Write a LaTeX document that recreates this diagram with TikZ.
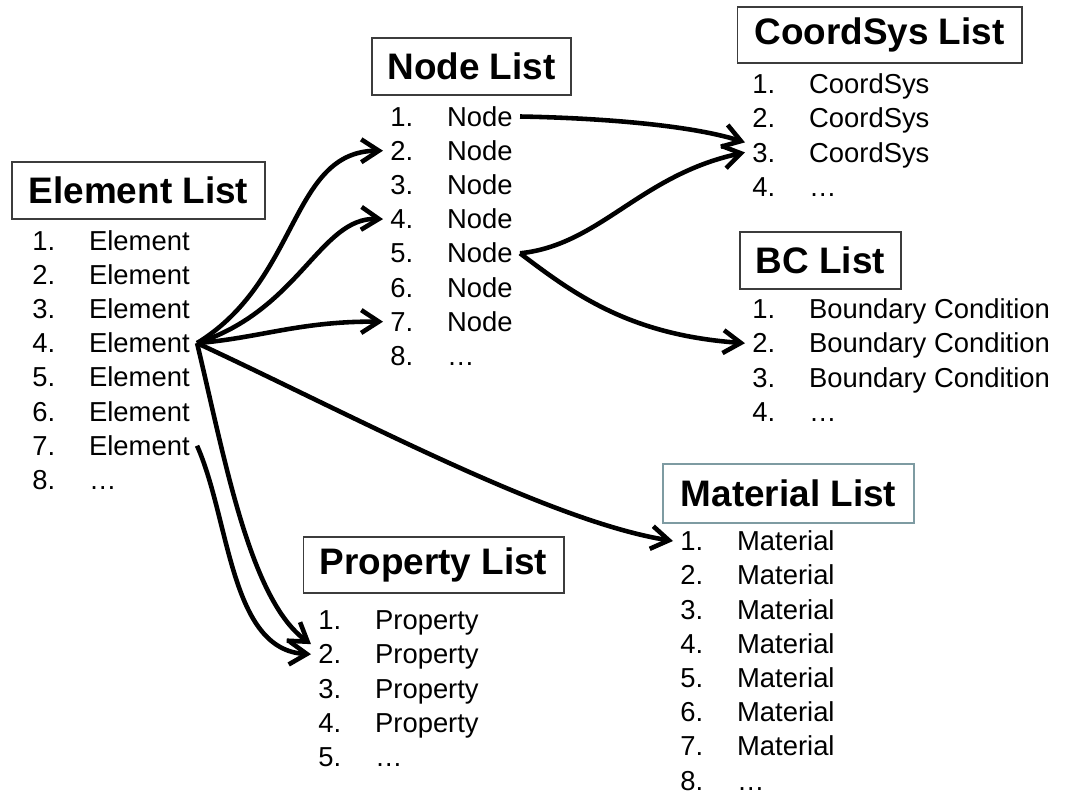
\documentclass[tikz,border=0pt]{standalone}
\usepackage{fontspec}
\setmainfont{Liberation Sans}
\usetikzlibrary{arrows.meta}

\definecolor{boxline}{HTML}{3C3C3C}
\definecolor{matline}{HTML}{7E9BA2}
\newcommand{\itm}[2]{\makebox[32.3pt][l]{#1}#2}

\tikzset{
  listhead/.style={draw=boxline, line width=0.6pt, inner sep=0pt,
    font=\fontsize{21}{25}\selectfont\bfseries},
  listitem/.style={anchor=west, inner xsep=4pt, inner ysep=0pt,
    text height=11pt, text depth=0pt, font=\fontsize{15.6}{18}\selectfont},
  link/.style={-{Straight Barb[length=10pt,width=13pt]}, line width=2.6pt}
}

\begin{document}
\begin{tikzpicture}[x=0.02cm, y=-0.02cm]
  \useasboundingbox (0,0) rectangle (1066,794);

  % list headings
  \node[listhead, minimum width=5.06cm, minimum height=1.14cm] (EL) at (138.5, 190.5) {Element List};
  \node[listhead, minimum width=3.98cm, minimum height=1.14cm] (NL) at (471.5, 66.5) {Node List};
  \node[listhead, minimum width=5.70cm, minimum height=1.12cm] (CL) at (879.5, 35) {CoordSys List};
  \node[listhead, minimum width=3.22cm, minimum height=1.14cm] (BL) at (820.5, 260.5) {BC List};
  \node[listhead, draw=matline, line width=0.9pt, minimum width=5.02cm, minimum height=1.18cm] (ML) at (788.5, 493.5) {Material List};
  \node[listhead, minimum width=5.22cm, minimum height=1.12cm] (PL) at (433.5, 565) {Property List};

  % element list
  \node[listitem] (E1) at (25, 240.5) {\itm{1.}{Element}};
  \node[listitem] (E2) at (25, 274.7) {\itm{2.}{Element}};
  \node[listitem] (E3) at (25, 308.9) {\itm{3.}{Element}};
  \node[listitem] (E4) at (25, 343.1) {\itm{4.}{Element}};
  \node[listitem] (E5) at (25, 377.3) {\itm{5.}{Element}};
  \node[listitem] (E6) at (25, 411.5) {\itm{6.}{Element}};
  \node[listitem] (E7) at (25, 445.7) {\itm{7.}{Element}};
  \node[listitem] (E8) at (25, 479.9) {\itm{8.}{…}};

  % node list
  \node[listitem] (N1) at (383, 116.5) {\itm{1.}{Node}};
  \node[listitem] (N2) at (383, 150.7) {\itm{2.}{Node}};
  \node[listitem] (N3) at (383, 184.9) {\itm{3.}{Node}};
  \node[listitem] (N4) at (383, 219.1) {\itm{4.}{Node}};
  \node[listitem] (N5) at (383, 253.3) {\itm{5.}{Node}};
  \node[listitem] (N6) at (383, 287.5) {\itm{6.}{Node}};
  \node[listitem] (N7) at (383, 321.7) {\itm{7.}{Node}};
  \node[listitem] (N8) at (383, 355.9) {\itm{8.}{…}};

  % coordinate system list
  \node[listitem] (C1) at (745, 84) {\itm{1.}{CoordSys}};
  \node[listitem] (C2) at (745, 118.2) {\itm{2.}{CoordSys}};
  \node[listitem] (C3) at (745, 152.4) {\itm{3.}{CoordSys}};
  \node[listitem] (C4) at (745, 186.6) {\itm{4.}{…}};

  % boundary condition list
  \node[listitem] (B1) at (745, 309) {\itm{1.}{Boundary Condition}};
  \node[listitem] (B2) at (745, 343.2) {\itm{2.}{Boundary Condition}};
  \node[listitem] (B3) at (745, 377.4) {\itm{3.}{Boundary Condition}};
  \node[listitem] (B4) at (745, 411.6) {\itm{4.}{…}};

  % material list
  \node[listitem] (M1) at (673, 541) {\itm{1.}{Material}};
  \node[listitem] (M2) at (673, 575.2) {\itm{2.}{Material}};
  \node[listitem] (M3) at (673, 609.4) {\itm{3.}{Material}};
  \node[listitem] (M4) at (673, 643.6) {\itm{4.}{Material}};
  \node[listitem] (M5) at (673, 677.8) {\itm{5.}{Material}};
  \node[listitem] (M6) at (673, 712) {\itm{6.}{Material}};
  \node[listitem] (M7) at (673, 746.2) {\itm{7.}{Material}};
  \node[listitem] (M8) at (673, 780.4) {\itm{8.}{…}};

  % property list
  \node[listitem] (P1) at (311, 620) {\itm{1.}{Property}};
  \node[listitem] (P2) at (311, 654.2) {\itm{2.}{Property}};
  \node[listitem] (P3) at (311, 688.4) {\itm{3.}{Property}};
  \node[listitem] (P4) at (311, 722.6) {\itm{4.}{Property}};
  \node[listitem] (P5) at (311, 756.8) {\itm{5.}{…}};

  % references
  \draw[link] (E4.east) .. controls (300,280) and (290,151) .. (N2.west);
  \draw[link] (E4.east) .. controls (300,310) and (320,217) .. (N4.west);
  \draw[link] (E4.east) .. controls (260,338) and (300,321) .. (N7.west);
  \draw[link] (E4.east) .. controls (348,413) and (548,521) .. (M1.west);
  \draw[link] (E4.east) .. controls (225,460) and (250,600) .. (P2.north west);
  \draw[link] (E7.east) .. controls (230,520) and (230,650) .. (P2.west);
  \draw[link] (N1.east) .. controls (600,118) and (690,125) .. (C3.north west);
  \draw[link] (N5.east) .. controls (600,245) and (640,175) .. (C3.west);
  \draw[link] (N5.east) .. controls (575,295) and (630,335) .. (B2.west);
\end{tikzpicture}
\end{document}
